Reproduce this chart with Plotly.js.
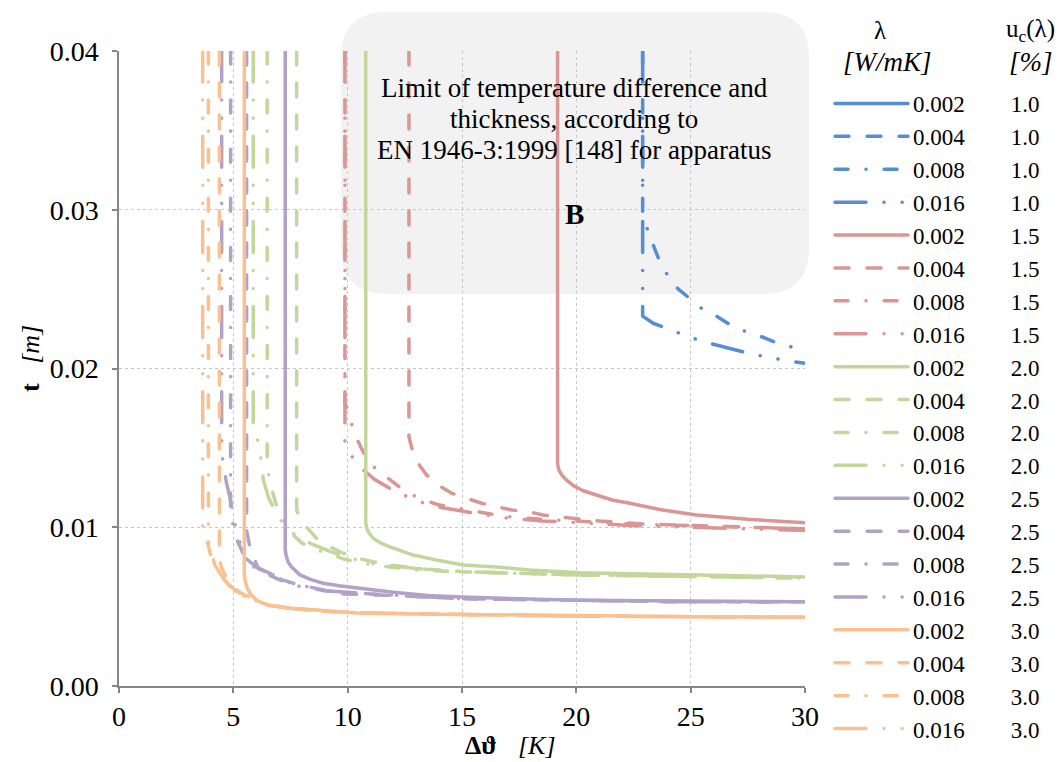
<!DOCTYPE html>
<html>
<head>
<meta charset="utf-8">
<script src="https://cdn.plot.ly/plotly-3.0.1.min.js"></script>
<style>
  html, body { margin: 0; padding: 0; background: #ffffff; }
  #chart { width: 1059px; height: 762px; }
  path.js-line { stroke-linecap: round !important; stroke-linejoin: round !important; }
</style>
</head>
<body>
<div id="chart"></div>
<script>
// ---- labels ----
const lambdaLabels = ['0.002', '0.004', '0.008', '0.016'];
const ucLabels = ['1.0', '1.5', '2.0', '2.5', '3.0'];
const xTicks = [0, 5, 10, 15, 20, 25, 30];
const yTicks = [0.00, 0.01, 0.02, 0.03, 0.04];

// ---- uc = 1.0 (blue) ---- (0.002 and 0.004 have no point inside the plotted range)
const x_u10_l002 = [null];
const y_u10_l002 = [null];
const x_u10_l004 = [null];
const y_u10_l004 = [null];
const x_u10_l008 = [22.9, 22.9, 23.14, 23.36, 23.63, 24.02, 24.46, 24.97, 25.55, 26.13, 26.79, 27.45, 28.1, 28.8, 29.56, 30];
const y_u10_l008 = [0.040, 0.0298, 0.0286, 0.0278, 0.0268, 0.0258, 0.0250, 0.0244, 0.0237, 0.0233, 0.0227, 0.0223, 0.0220, 0.0216, 0.0213, 0.0212];
const x_u10_l016 = [22.9, 22.9, 23.36, 24.09, 24.82, 25.55, 26.93, 27.66, 28.44, 29.2, 30];
const y_u10_l016 = [0.040, 0.0233, 0.02285, 0.02243, 0.02205, 0.02169, 0.02117, 0.02091, 0.0207, 0.02049, 0.02033];

// ---- uc = 1.5 (red) ----
const x_u15_l002 = [19.18, 19.18, 19.24, 19.36, 19.55, 19.87, 20.3, 20.9, 21.6, 22.34, 23.7, 25.26, 27.5, 30];
const y_u15_l002 = [0.040, 0.0140, 0.0136, 0.0133, 0.0130, 0.01262, 0.0123, 0.0120, 0.0117, 0.01151, 0.0111, 0.01077, 0.0105, 0.01029];
const x_u15_l004 = [12.68, 12.68, 12.8, 13.04, 13.45, 13.96, 14.55, 15.2, 15.86, 16.52, 17.17, 17.9, 18.55, 19.21, 21, 23, 25, 27.5, 30];
const y_u15_l004 = [0.040, 0.0157, 0.0150, 0.0141, 0.0133, 0.01266, 0.01214, 0.01182, 0.01151, 0.01129, 0.01109, 0.01098, 0.01077, 0.01066, 0.0104, 0.0102, 0.0101, 0.0100, 0.0099];
const x_u15_l008 = [9.88, 9.88, 10.03, 10.25, 10.46, 10.83, 11.34, 11.85, 12.43, 13.16, 14.0, 15.2, 16.8, 18.5, 20, 22.5, 25, 27.5, 30];
const y_u15_l008 = [0.040, 0.0178, 0.0173, 0.0161, 0.0154, 0.0143, 0.0135, 0.0130, 0.01235, 0.0118, 0.0114, 0.0111, 0.0107, 0.0105, 0.0104, 0.0102, 0.0101, 0.0100, 0.0099];
const x_u15_l016 = [9.88, 9.88, 10.13, 10.61, 11.19, 11.85, 12.5, 13.16, 13.89, 14.65, 15.5, 16.8, 18.5, 20, 22.5, 25, 27.5, 30];
const y_u15_l016 = [0.040, 0.0152, 0.01455, 0.0137, 0.0130, 0.01245, 0.0120, 0.0116, 0.0113, 0.0111, 0.0109, 0.0106, 0.0104, 0.0103, 0.0101, 0.0100, 0.0099, 0.0098];

// ---- uc = 2.0 (green) ----
const x_u20_l002 = [10.79, 10.79, 10.84, 10.95, 11.12, 11.45, 11.85, 12.35, 12.87, 14.0, 15.06, 16.5, 17.97, 20.16, 25, 30];
const y_u20_l002 = [0.040, 0.0103, 0.0099, 0.0096, 0.0093, 0.0090, 0.00877, 0.0085, 0.00825, 0.0079, 0.00762, 0.0075, 0.00731, 0.00714, 0.0070, 0.00687];
const x_u20_l004 = [7.77, 7.77, 7.9, 8.21, 8.64, 9.23, 9.81, 10.6, 11.5, 13, 15, 20, 25, 30];
const y_u20_l004 = [0.040, 0.0111, 0.0106, 0.0100, 0.0093, 0.00877, 0.00836, 0.0080, 0.0077, 0.0074, 0.0072, 0.0070, 0.0069, 0.0068];
const x_u20_l008 = [6.48, 6.48, 6.6, 6.9, 7.48, 8.0, 8.6, 9.3, 9.81, 11.12, 11.85, 13, 15.06, 20, 25, 30];
const y_u20_l008 = [0.040, 0.0140, 0.0128, 0.0113, 0.0097, 0.0090, 0.0086, 0.0083, 0.0080, 0.00762, 0.0075, 0.0073, 0.0072, 0.0070, 0.0069, 0.0068];
const x_u20_l016 = [5.87, 5.87, 6.02, 6.24, 6.31, 6.53, 6.9, 7.3, 7.8, 8.5, 9.2, 10, 11.12, 13, 15.06, 20, 25, 30];
const y_u20_l016 = [0.040, 0.0164, 0.0158, 0.0140, 0.0130, 0.0119, 0.0108, 0.0100, 0.0094, 0.0089, 0.0085, 0.0081, 0.0077, 0.0074, 0.0072, 0.0070, 0.0069, 0.0068];

// ---- uc = 2.5 (purple) ----
const x_u25_l002 = [7.27, 7.27, 7.31, 7.4, 7.55, 7.91, 8.4, 8.93, 9.7, 10.54, 12, 13.5, 15, 17.5, 20, 25, 30];
const y_u25_l002 = [0.040, 0.0086, 0.0082, 0.0078, 0.0075, 0.0070, 0.0067, 0.00647, 0.0063, 0.00615, 0.0059, 0.0057, 0.0056, 0.0055, 0.0054, 0.00535, 0.0053];
const x_u25_l004 = [5.58, 5.58, 5.73, 6.09, 6.6, 7.11, 7.77, 8.8, 9.81, 12, 15, 20, 25, 30];
const y_u25_l004 = [0.040, 0.0098, 0.0087, 0.0074, 0.0071, 0.0067, 0.0064, 0.0061, 0.0058, 0.0057, 0.0055, 0.0054, 0.0053, 0.0053];
const x_u25_l008 = [4.88, 4.88, 5.0, 5.22, 5.51, 5.9, 6.4, 7.0, 7.8, 9, 11, 15, 20, 25, 30];
const y_u25_l008 = [0.040, 0.0110, 0.0100, 0.0090, 0.0081, 0.0075, 0.0071, 0.0067, 0.0063, 0.0060, 0.0058, 0.0055, 0.0054, 0.0053, 0.0053];
const x_u25_l016 = [4.49, 4.49, 4.56, 4.7, 4.85, 5.0, 5.22, 5.58, 6.0, 6.6, 7.48, 9, 11, 15, 20, 25, 30];
const y_u25_l016 = [0.040, 0.0148, 0.0140, 0.0128, 0.0119, 0.0106, 0.0093, 0.0080, 0.0075, 0.0071, 0.0065, 0.0060, 0.0058, 0.0055, 0.0054, 0.0053, 0.0053];

// ---- uc = 3.0 (orange) ----
const x_u30_l002 = [5.48, 5.48, 5.52, 5.6, 5.75, 6.02, 6.5, 7.04, 7.48, 8.5, 10.39, 12, 15, 20, 25, 30];
const y_u30_l002 = [0.040, 0.0071, 0.0066, 0.0062, 0.0058, 0.0054, 0.0051, 0.0050, 0.0049, 0.0048, 0.0046, 0.00455, 0.0045, 0.0044, 0.00437, 0.00433];
const x_u30_l004 = [4.39, 4.39, 4.5, 4.7, 5.0, 5.4, 6.0, 6.5, 7.5, 9, 11, 15, 20, 25, 30];
const y_u30_l004 = [0.040, 0.0080, 0.0074, 0.0068, 0.0062, 0.0058, 0.0054, 0.0051, 0.0049, 0.0047, 0.0046, 0.0045, 0.0044, 0.00437, 0.00433];
const x_u30_l008 = [3.91, 3.91, 4.0, 4.2, 4.5, 4.8, 5.1, 5.6, 6.46, 7.5, 9, 11, 15, 20, 25, 30];
const y_u30_l008 = [0.040, 0.0088, 0.0083, 0.0076, 0.0069, 0.0064, 0.0060, 0.0056, 0.0051, 0.0049, 0.0047, 0.0046, 0.0045, 0.0044, 0.00437, 0.00433];
const x_u30_l016 = [3.66, 3.66, 3.75, 3.98, 4.2, 4.6, 5.07, 5.58, 6.46, 7.5, 9, 11, 15, 20, 25, 30];
const y_u30_l016 = [0.040, 0.0097, 0.0093, 0.0087, 0.0076, 0.0067, 0.0059, 0.0056, 0.0051, 0.0049, 0.0047, 0.0046, 0.0045, 0.0044, 0.00437, 0.00433];

// ---- styles ----
const colors = ['#558ED5', '#D99694', '#C3D69B', '#B3A2C7', '#FAC090'];
const dashes = ['solid', '14px,18px', '13px,18px,0.1px,18px', '31px,18px,0.1px,18px,0.1px,18px'];

const series = [
  [[x_u10_l002, y_u10_l002], [x_u10_l004, y_u10_l004], [x_u10_l008, y_u10_l008], [x_u10_l016, y_u10_l016]],
  [[x_u15_l002, y_u15_l002], [x_u15_l004, y_u15_l004], [x_u15_l008, y_u15_l008], [x_u15_l016, y_u15_l016]],
  [[x_u20_l002, y_u20_l002], [x_u20_l004, y_u20_l004], [x_u20_l008, y_u20_l008], [x_u20_l016, y_u20_l016]],
  [[x_u25_l002, y_u25_l002], [x_u25_l004, y_u25_l004], [x_u25_l008, y_u25_l008], [x_u25_l016, y_u25_l016]],
  [[x_u30_l002, y_u30_l002], [x_u30_l004, y_u30_l004], [x_u30_l008, y_u30_l008], [x_u30_l016, y_u30_l016]]
];

const NB = '\u00a0';
const traces = [];
series.forEach((grp, gi) => {
  grp.forEach((xy, li) => {
    traces.push({
      type: 'scatter',
      mode: 'lines',
      x: xy[0],
      y: xy[1],
      name: lambdaLabels[li] + NB.repeat(8) + ucLabels[gi],
      line: { color: colors[gi], width: 3.5, dash: dashes[li], shape: 'linear' },
      hoverinfo: 'x+y+name'
    });
  });
});

// ---- layout geometry (plot area: x 119..805, y 51..686 px) ----
const W = 1059, H = 762, ML = 119, MR = W - 805, MT = 51, MB = H - 686;
const PW = W - ML - MR, PH = H - MT - MB;
const px = v => (v - ML) / PW;
const py = v => (H - MB - v) / PH;

// rounded box
const bx0 = px(341), bx1 = px(809), byT = py(12), byB = py(294);
const rx = 46 / PW, ry = 46 / PH;
const boxPath = `M${bx0 + rx},${byT} L${bx1 - rx},${byT} Q${bx1},${byT} ${bx1},${byT - ry} ` +
  `L${bx1},${byB + ry} Q${bx1},${byB} ${bx1 - rx},${byB} L${bx0 + rx},${byB} ` +
  `Q${bx0},${byB} ${bx0},${byB + ry} L${bx0},${byT - ry} Q${bx0},${byT} ${bx0 + rx},${byT} Z`;

const serif = '"Liberation Serif", "Times New Roman", serif';
const boxLines = ['Limit of temperature difference and', 'thickness, according to', 'EN 1946-3:1999 [148] for apparatus'];
const boxLineY = [88, 119, 150];

const ann = (x, y, text, size, extra) => Object.assign({
  xref: 'paper', yref: 'paper', x: px(x), y: py(y), xanchor: 'center', yanchor: 'middle',
  showarrow: false, text: text, font: { family: serif, size: size, color: '#000000' }
}, extra || {});

const annotations = boxLines.map((t, i) => ann(574, boxLineY[i], t, 27));
annotations.push(
  ann(574, 214, '<b>B</b>', 29),
  ann(880, 30, 'λ', 25),
  ann(887, 62, '<i>[W/mK]</i>', 27),
  ann(1030, 30, 'u<sub>c</sub>(λ)', 25),
  ann(1031, 62, '<i>[%]</i>', 27),
  // x-axis title (symbol and unit)
  ann(463, 745, '<b>Δϑ</b>', 26, { xanchor: 'left' }),
  ann(516, 745, '<i>[K]</i>', 26, { xanchor: 'left' }),
  // y-axis title
  ann(30, 359, '<b>t</b>' + NB.repeat(3) + '<i>[m]</i>', 26, { textangle: -90 })
);

const layout = {
  width: W, height: H,
  margin: { l: ML, r: MR, t: MT, b: MB, autoexpand: false },
  paper_bgcolor: '#ffffff',
  plot_bgcolor: 'rgba(0,0,0,0)',
  font: { family: serif, size: 24, color: '#000000' },
  showlegend: true,
  legend: {
    x: px(830), y: py(82), xanchor: 'left', yanchor: 'top',
    font: { family: serif, size: 23, color: '#000000' },
    itemwidth: 73,
    maxheight: 1000,
    bgcolor: 'rgba(0,0,0,0)', borderwidth: 0,
    traceorder: 'normal'
  },
  xaxis: {
    range: [0, 30], tickvals: xTicks, ticktext: xTicks.map(String),
    showline: true, linecolor: '#868686', linewidth: 1.5,
    ticks: 'outside', ticklen: 5, tickcolor: '#868686', tickwidth: 1.5,
    showgrid: true, gridcolor: '#c8c8c8', griddash: 'dot', gridwidth: 1.2,
    zeroline: false,
    tickfont: { family: serif, size: 28, color: '#000000' },
    fixedrange: true
  },
  yaxis: {
    range: [0, 0.04], tickvals: yTicks, ticktext: yTicks.map(v => v.toFixed(2)),
    showline: true, linecolor: '#868686', linewidth: 1.5,
    ticks: 'outside', ticklen: 5, tickcolor: '#868686', tickwidth: 1.5,
    ticklabelstandoff: 8,
    showgrid: true, gridcolor: '#c8c8c8', griddash: 'dot', gridwidth: 1.2,
    zeroline: false,
    tickfont: { family: serif, size: 28, color: '#000000' },
    fixedrange: true
  },
  shapes: [{
    type: 'path', xref: 'paper', yref: 'paper', path: boxPath,
    fillcolor: '#F2F2F2', line: { width: 0 }, layer: 'below'
  }],
  annotations: annotations
};

Plotly.newPlot('chart', traces, layout, { displayModeBar: false, responsive: false });
</script>
</body>
</html>
